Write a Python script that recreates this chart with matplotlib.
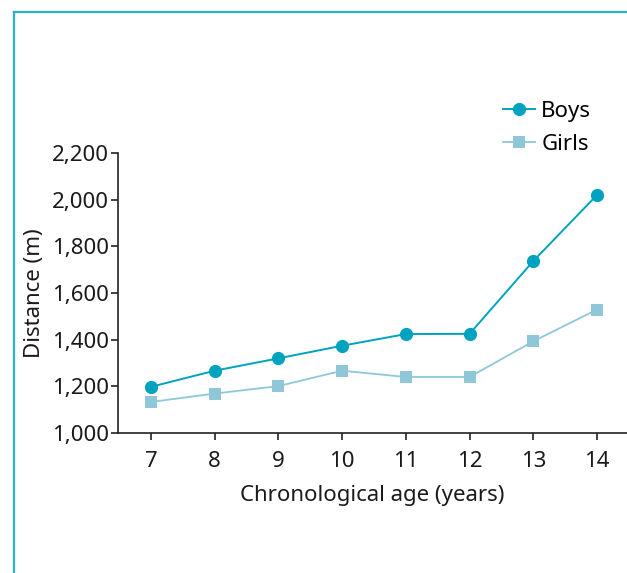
import matplotlib
matplotlib.use("Agg")
import matplotlib.pyplot as plt
from matplotlib.lines import Line2D

plt.rcParams["font.family"] = ["Noto Sans", "DejaVu Sans"]

# Data
ages = [7, 8, 9, 10, 11, 12, 13, 14]
boys = [1198, 1267, 1320, 1374, 1424, 1425, 1737, 2020]
girls = [1133, 1169, 1201, 1267, 1240, 1240, 1393, 1529]
y_ticks = [1000, 1200, 1400, 1600, 1800, 2000, 2200]

boys_color = "#00a3bf"
girls_color = "#8fc7d8"
frame_color = "#2cb1c9"
axis_color = "#222222"
text_color = "#1a1a1a"
fs = 16

fig = plt.figure(figsize=(6.27, 5.73), dpi=100)
ax = fig.add_axes([118 / 627, 1 - 433 / 573, 1 - 118 / 627, (433 - 153) / 573])

ax.plot(ages, boys, color=boys_color, lw=1.4, marker="o", ms=9.5,
        markeredgewidth=0, label="Boys", zorder=3)
ax.plot(ages, girls, color=girls_color, lw=1.3, marker="s", ms=9,
        markeredgewidth=0, label="Girls", zorder=2)

ax.set_xlim(6.482, 14.471)
ax.set_ylim(1000, 2200)
ax.set_xticks(ages)
ax.set_yticks(y_ticks)
ax.set_yticklabels([f"{v:,}" for v in y_ticks])

for side in ["top", "right"]:
    ax.spines[side].set_visible(False)
for side in ["left", "bottom"]:
    ax.spines[side].set_color(axis_color)
    ax.spines[side].set_linewidth(1.2)

ax.tick_params(axis="both", colors=axis_color, labelcolor=text_color,
               labelsize=fs, length=5, width=1.2)
ax.tick_params(axis="y", pad=1.5)
ax.tick_params(axis="x", pad=8)

ax.set_xlabel("Chronological age (years)", fontsize=fs, color=text_color)
ax.set_ylabel("Distance (m)", fontsize=fs, color=text_color)
ax.xaxis.set_label_coords(0.5, -0.186)
ax.yaxis.set_label_coords(-0.143, 0.5)

handles = [
    Line2D([], [], color=boys_color, lw=1.4, marker="o", ms=9.5, markeredgewidth=0),
    Line2D([], [], color=girls_color, lw=1.3, marker="s", ms=9, markeredgewidth=0),
]
fig.legend(handles, ["Boys", "Girls"], loc="upper left",
           bbox_to_anchor=(503 / 627, 1 - 101 / 573), frameon=False,
           fontsize=fs, handlelength=1.45, handletextpad=0.27,
           labelspacing=0.55, borderaxespad=0, borderpad=0)

# teal frame along the top and left edges
fig.add_artist(Line2D([14 / 627, 14 / 627], [0, 1 - 12 / 573],
                      transform=fig.transFigure, color=frame_color, lw=1.6))
fig.add_artist(Line2D([14 / 627, 1], [1 - 12 / 573, 1 - 12 / 573],
                      transform=fig.transFigure, color=frame_color, lw=1.6))

fig.savefig("out.png", dpi=100)
